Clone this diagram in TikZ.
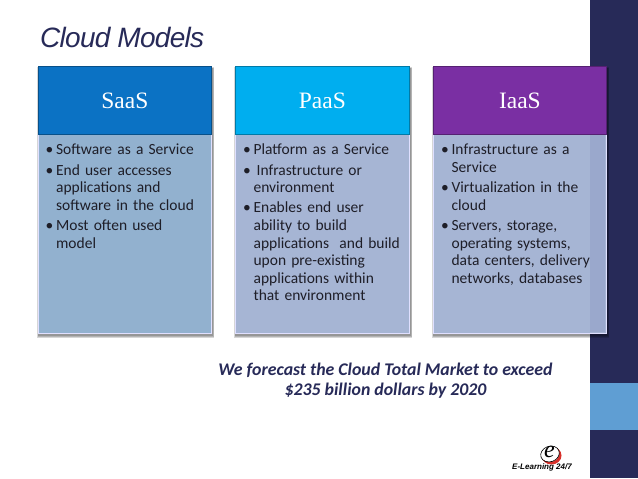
\documentclass[tikz,border=0pt]{standalone}
\usepackage{fontspec}
\setmainfont{Carlito}
\newfontfamily\headfont{Liberation Serif}
\newfontfamily\titlefont{Liberation Sans}
\usetikzlibrary{calc,shapes.geometric}
\definecolor{navy}{HTML}{272A58}
\definecolor{sideblue}{HTML}{5F9ED3}
\definecolor{saasblue}{HTML}{0B72C4}
\definecolor{paasblue}{HTML}{00AEEF}
\definecolor{iaaspurple}{HTML}{7A2FA3}
\definecolor{saasbody}{HTML}{92B1CF}
\definecolor{paasbody}{HTML}{A6B5D4}
\definecolor{iaasbody}{HTML}{A6B5D4}
\definecolor{bodytext}{HTML}{1E1E28}
\definecolor{logored}{HTML}{D8302A}
\newcommand{\bitem}[1]{\parskip=2.6pt\relax\hangindent=10.4pt\hangafter=1\noindent\makebox[10.4pt][l]{•}#1\par}
\tikzset{
  x=1pt,y=-1pt,
  headbox/.style={minimum width=173pt,minimum height=68pt,inner sep=0pt,anchor=north west,draw=#1!70!black,line width=0.8pt,text=white,font=\headfont\fontsize{23.5}{26}\selectfont},
  bodybox/.style={minimum width=173pt,minimum height=199pt,inner sep=0pt,anchor=north west,draw=white!88!blue,line width=1.4pt},
  bodytxt/.style={anchor=north west,inner sep=0pt,text width=#1,align=left,text=bodytext,font=\fontsize{15.5}{17.6}\selectfont},
  shadowrect/.style={fill=black,opacity=0.16,draw=none}
}
\newcommand{\softshadow}[4]{%
  \fill[shadowrect] (#1-1.5,#2+1) rectangle (#3+3,#4+5);
  \fill[shadowrect] (#1-0.5,#2+1.5) rectangle (#3+2.5,#4+4);
  \fill[shadowrect] (#1,#2+2) rectangle (#3+2,#4+3);
}
\begin{document}
\begin{tikzpicture}
\useasboundingbox (0,0) rectangle (638,479);
\fill[white] (0,0) rectangle (638,479);
% side band
\fill[navy] (590,0) rectangle (638,383);
\fill[sideblue] (590,383) rectangle (638,430);
\fill[navy] (590,430) rectangle (638,477.5);
% title
\node[anchor=west,inner sep=0pt,text=navy,font=\titlefont\itshape\fontsize{28}{30}\selectfont] (title) at (40,37) {\addfontfeature{LetterSpace=-2.6}Cloud Models};
% shadows
\softshadow{38}{66}{211}{333}
\softshadow{235}{66}{409}{333}
\softshadow{433}{66}{606}{333}
% boxes
\node[bodybox,fill=saasbody] (saasb) at (38,134) {};
\node[bodybox,fill=paasbody,minimum width=174pt] (paasb) at (235,134) {};
\node[bodybox,fill=iaasbody] (iaasb) at (433,134) {};
\fill[black!60!blue,opacity=0.07] (590,134.7) rectangle (605.3,332.3);
\node[headbox=saasblue,fill=saasblue] (saash) at (38,66) {SaaS};
\node[headbox=paasblue,fill=paasblue,minimum width=174pt] (paash) at (235,66) {PaaS};
\node[headbox=iaaspurple,fill=iaaspurple] (iaash) at (433,66) {IaaS};
% body text
\node[bodytxt=165pt] (saast) at (45.5,144) {%
\bitem{Software as a Service}%
\bitem{End user accesses\newline applications and\newline software in the cloud}%
\bitem{Most often used\newline model}};
\node[bodytxt=165pt] (paast) at (243,144) {%
\bitem{Platform as a Service}%
\bitem{\hspace{3pt}Infrastructure or\newline environment}%
\bitem{Enables end user\newline ability to build\newline applications\ \ and build\newline upon pre-existing\newline applications within\newline that environment}};
\node[bodytxt=150pt] (iaast) at (441,144) {%
\bitem{Infrastructure as a\newline Service}%
\bitem{Virtualization in the\newline cloud}%
\bitem{Servers, storage,\newline operating systems,\newline data centers, delivery\newline networks, databases}};
% forecast
\node[anchor=center,inner sep=0pt,align=center,text=navy,font=\bfseries\itshape\fontsize{17.8}{20}\selectfont] (forecast) at (385.5,381) {We forecast the Cloud Total Market to exceed\\\$235 billion dollars by 2020};
% logo
\fill[logored] (551.5,455.5) ellipse [x radius=10pt,y radius=9pt];
\fill[white] (549.5,453.5) ellipse [x radius=9.8pt,y radius=8.4pt];
\node[draw=black,line width=0.6pt,ellipse,rotate=20,minimum width=19pt,minimum height=15.5pt,inner sep=0pt] (logoring) at (550,454) {};
\node[inner sep=0pt,text=black,font=\headfont\itshape\fontsize{24}{24}\selectfont] (logoe) at (549.5,452) {e};
\node[inner sep=0pt,text=black,font=\titlefont\bfseries\itshape\fontsize{8}{8}\selectfont] (logotext) at (542,467.5) {E-Learning 24/7};
\end{tikzpicture}
\end{document}
